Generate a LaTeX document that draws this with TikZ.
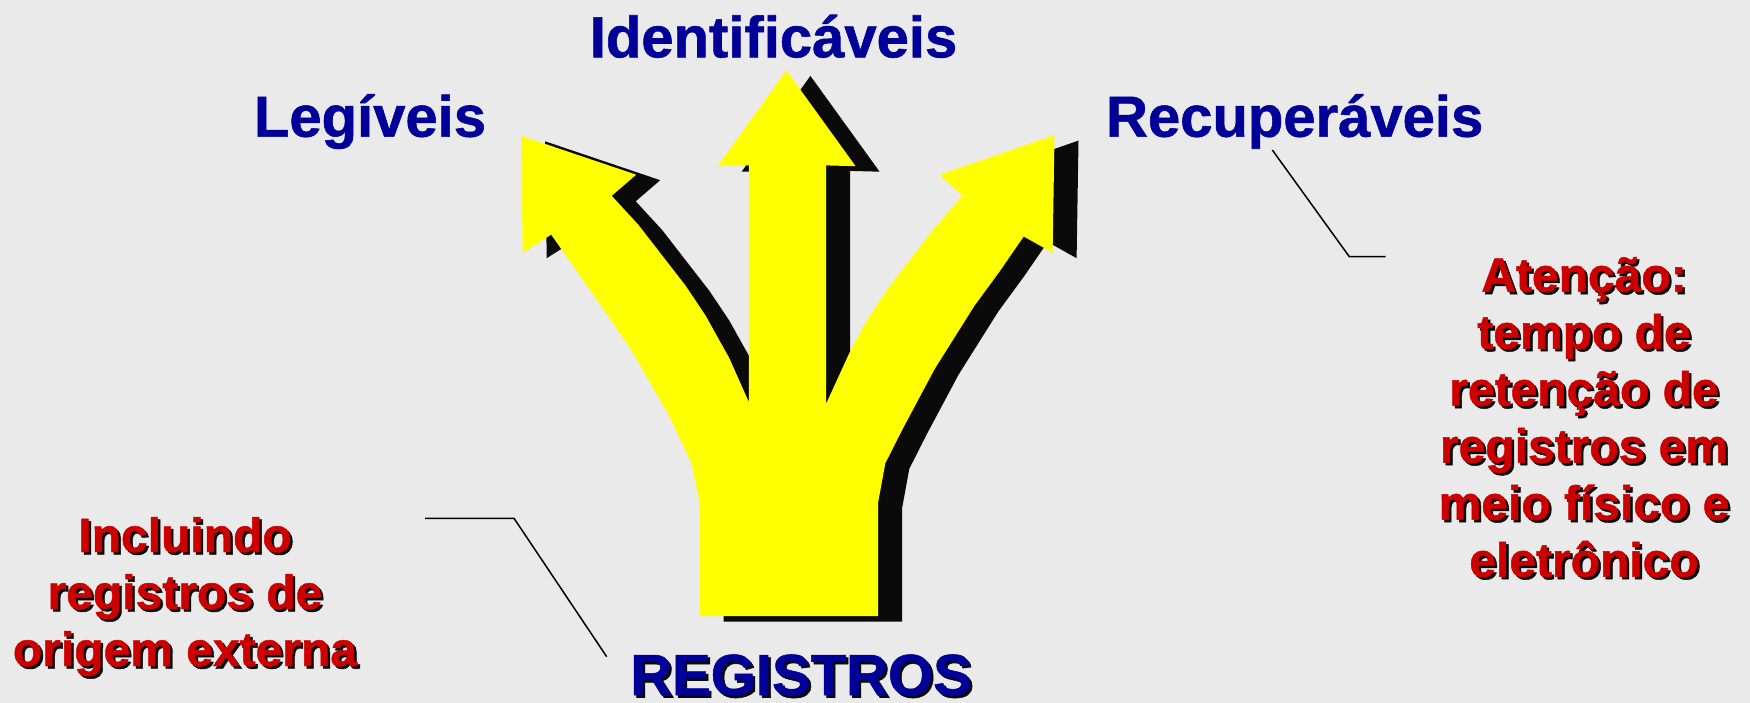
\documentclass[tikz,border=0pt]{standalone}
\usepackage{fontspec}
\setmainfont{Liberation Sans}[BoldFeatures={FakeBold=1}]
\definecolor{bg}{HTML}{EAEAEA}
\definecolor{navy}{HTML}{000099}
\definecolor{crimson}{HTML}{CC0000}
\definecolor{darkshadow}{HTML}{0A0A0A}
\definecolor{forkyellow}{HTML}{FFFF00}
\begin{document}
\begin{tikzpicture}[x=1pt,y=-1pt,
  head/.style={inner sep=0pt, anchor=base, text=navy, font=\bfseries\fontsize{58}{66}\selectfont},
  headshadow/.style={head, text=darkshadow},
  note/.style={inner sep=0pt, anchor=base, align=center, text=crimson, font=\bfseries\fontsize{48}{57}\selectfont},
  noteshadow/.style={note, text=darkshadow},
  leader/.style={draw=black, line width=1.5pt}]
\useasboundingbox (0,0) rectangle (1750,703);
\fill[bg] (0,0) rectangle (1750,703);
\def\forkpath{(699.5,616) -- (699.5,502) -- (691.5,463.3) -- (669.8,417) -- (630.3,348.6) -- (598.6,302.3) -- (551.2,234.6)
 -- (522.7,252.7) -- (521.1,135.8) -- (636.2,174.7) -- (611.7,195.8) -- (638.2,224.6) -- (685.6,285.7) -- (705.4,315.3)
 -- (729.1,357.8) -- (748.9,402.2) -- (748.9,165.4) -- (717.6,166.2) -- (786.4,70.4) -- (855.6,166.2) -- (826,165.4)
 -- (826,404) -- (849.7,352.3) -- (865.5,322.7) -- (887.3,289.4) -- (932.7,230.2) -- (962.4,195.8) -- (939.9,174.7)
 -- (1054.5,135.1) -- (1052.6,252.7) -- (1023.7,236.5) -- (1000,270.9) -- (974.3,306) -- (934.7,368.9) -- (903.1,428.1)
 -- (885.3,463.3) -- (878.2,502) -- (878.2,616) -- cycle}
\fill[darkshadow, shift={(24,5.5)}] \forkpath;
\fill[forkyellow] \forkpath;
% headings
\node[head] (leg) at (370,136.7) {Legíveis};
\node[head] (ide) at (773.5,57.3) {Identificáveis};
\node[head] (rec) at (1294.7,136.7) {Recuperáveis};
\node[headshadow] (regsh) at (803.5,697.5) {REGISTROS};
\node[head] (reg) at (801,695) {REGISTROS};
% notes (anchor base = baseline of the last line)
\node[noteshadow] (incsh) at (187.5,668.5) {Incluindo\\registros de\\origem externa};
\node[note] (inc) at (185,666) {Incluindo\\registros de\\origem externa};
\node[noteshadow] (attsh) at (1586.5,579.2) {Atenção:\\tempo de\\retenção de\\registros em\\meio físico e\\eletrônico};
\node[note] (att) at (1584,576.7) {Atenção:\\tempo de\\retenção de\\registros em\\meio físico e\\eletrônico};
% leaders
\coordinate (la) at (425,518.3);
\coordinate (lb) at (514,518.3);
\coordinate (lc) at (606.7,656.7);
\draw[leader] (la) -- (lb) -- (lc);
\coordinate (ra) at (1272.3,150);
\coordinate (rb) at (1349.3,256.7);
\coordinate (rc) at (1385.7,256.7);
\draw[leader] (ra) -- (rb) -- (rc);
\end{tikzpicture}
\end{document}
